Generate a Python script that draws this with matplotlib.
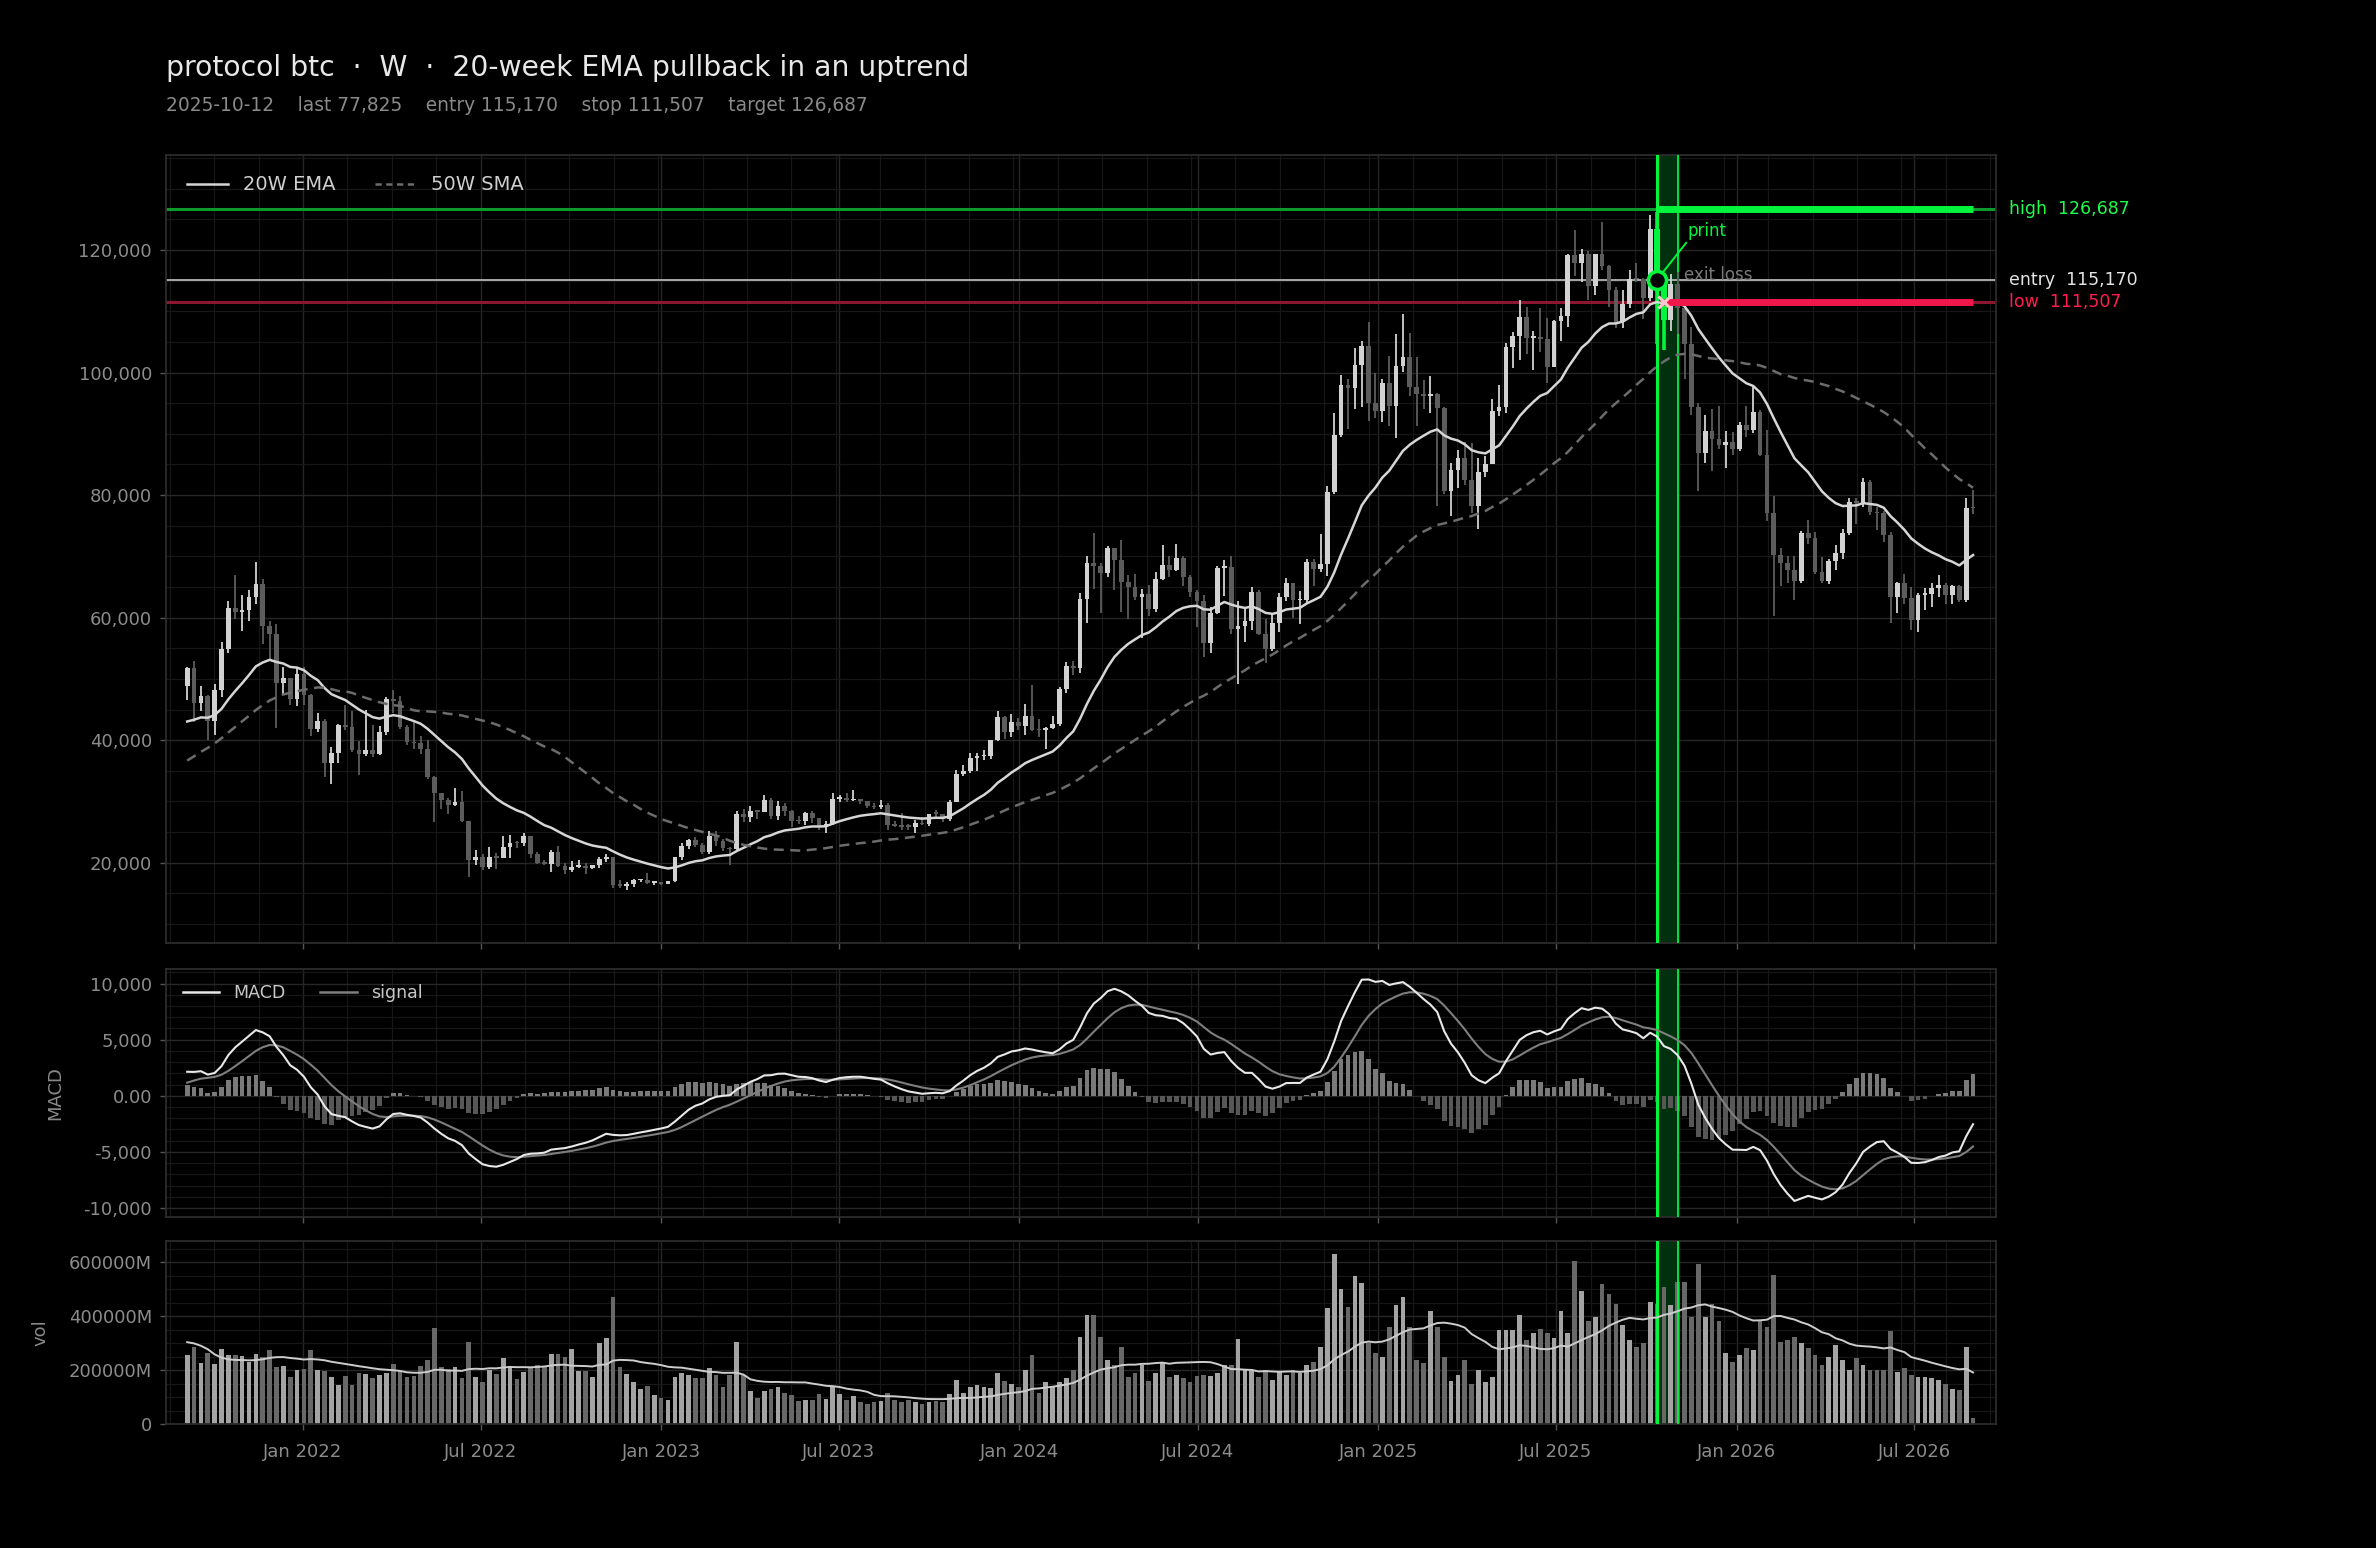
import numpy as np
import pandas as pd
import matplotlib
matplotlib.use("Agg")
import matplotlib.pyplot as plt
import matplotlib.dates as mdates
import matplotlib.transforms as mtransforms
from matplotlib.lines import Line2D
from matplotlib.ticker import AutoMinorLocator, FuncFormatter, MultipleLocator

# weekly bars (week ending Sunday); prices in thousands of USD, volume in billions of USD
FIRST_WEEK = "2021-09-05"
SIGNAL_WEEK = "2025-10-12"
EXIT_WEEK = "2025-10-19"
WINDOW_END = "2025-11-02"
ENTRY = 115170
STOP = 111507
TARGET = 126687
LAST = 77825

# history before the visible window (Sep 2020 - Aug 2021), only feeds the indicators
warmup_closes = [
    10.93, 10.78, 10.67, 11.38, 11.5, 13.03, 13.74, 15.48, 15.96, 18.4, 18.18, 19.15, 19.25, 23.87, 26.28,
    32.78, 38.36, 36.07, 32.29, 33.11, 39.27, 48.72, 57.54, 45.14, 51.2, 59.3, 57.52, 55.95,
    58.76, 60.2, 56.22, 49.0, 56.62, 58.24, 46.46, 34.77, 35.68, 35.8, 39.1, 35.6, 34.7,
    35.29, 34.24, 31.78, 35.4, 39.97, 43.8, 47.05, 49.32, 48.83,
]
warmup_volumes = [
    150, 160, 150, 140, 170, 190, 230, 260, 250, 300, 280, 230, 210, 280, 330,
    480, 560, 500, 360, 420, 390, 450, 480, 430, 340, 330, 310, 300,
    300, 320, 420, 380, 400, 520, 600, 520, 380, 300, 260, 250, 240,
    190, 170, 160, 210, 240, 250, 270, 240, 230,
]

opens = [
    # 2021
    48.83, 51.75, 46.06, 47.26, 43.2, 48.2, 54.8, 61.55, 60.9, 61.3, 63.3, 65.47, 58.7, 57.25, 49.4, 50.1, 46.7,
    # 2022
    50.8, 47.3, 41.9, 43.1, 36.3, 37.9, 42.4, 42.2, 38.4, 37.7, 38.4, 37.8, 41.3, 46.8, 46.4, 42.2, 39.7, 39.5,
    38.5, 34.0, 31.3, 30.3, 29.4, 29.9, 26.8, 20.5, 21.0, 19.3, 20.9, 20.8, 22.6, 23.3, 23.2, 24.3, 21.5, 20.0,
    19.8, 21.8, 19.4, 18.8, 19.3, 19.45, 19.07, 19.57, 20.63, 20.92, 16.3, 16.28, 16.46, 17.1, 17.1, 16.75,
    # 2023
    16.84, 16.6, 16.95, 20.9, 22.7, 23.75, 22.93, 21.8, 24.3, 23.55, 22.43, 22.16, 28.0, 27.5, 28.45, 28.34,
    30.3, 27.59, 29.23, 28.43, 26.78, 26.75, 28.07, 27.22, 25.85, 26.34, 30.48, 30.59, 30.17, 30.25, 30.08,
    29.28, 29.05, 29.4, 26.19, 26.01, 25.87, 25.84, 26.53, 26.26, 27.98, 27.94, 27.16, 29.99, 34.53, 35.01,
    37.06, 37.37, 37.48, 39.98, 43.78, 41.36, 43.0,
    # 2024
    42.27, 43.94, 41.73, 41.58, 42.03, 42.58, 48.3, 52.14, 51.73, 63.11, 68.96, 68.39, 67.21, 71.3, 69.36,
    65.74, 64.94, 63.42, 63.9, 61.48, 66.27, 68.52, 67.76, 69.65, 66.64, 64.26, 62.67, 55.85, 60.8, 68.17,
    68.25, 58.12, 58.71, 59.49, 64.18, 57.3, 54.84, 59.13, 63.34, 65.6, 62.82, 62.85, 69.03, 67.94, 68.74,
    80.47, 89.85, 97.9, 97.45, 101.2, 104.4, 95.1,
    # 2025
    93.7, 98.31, 94.5, 101.1, 102.6, 97.7, 96.5, 96.12, 96.55, 94.27, 80.6, 84.04, 86.05, 82.4, 78.2, 83.7,
    85.1, 93.75, 94.3, 104.2, 106.03, 109.0, 105.7, 105.7, 105.5, 100.96, 108.4, 109.2, 119.1, 117.9, 119.4,
    114.2, 119.3, 117.4, 113.5, 108.2, 111.2, 115.3, 115.2, 112.2, 123.5, 115.17, 108.65, 114.5, 110.6, 104.7,
    94.3, 86.8, 90.4, 89.2, 88.2, 88.6,
    # 2026
    87.6, 91.5, 90.6, 93.6, 86.6, 77.0, 70.2, 68.9, 67.8, 65.9, 73.8, 73.0, 67.5, 65.9, 69.2, 70.5, 73.8,
    78.9, 78.7, 82.2, 77.3, 77.0, 73.5, 63.4, 65.6, 63.2, 59.6, 63.7, 63.9, 64.8, 65.3, 63.7, 65.1, 62.9, 77.9,
]
highs = [
    52.0, 52.9, 48.8, 47.3, 49.2, 56.0, 62.7, 67.0, 63.7, 64.5, 69.0, 66.3, 59.4, 59.0, 51.9, 50.2, 51.8,
    52.0, 47.5, 44.4, 43.5, 38.9, 42.6, 45.8, 44.7, 39.8, 45.0, 42.4, 42.3, 47.0, 48.2, 47.2, 42.4, 42.9, 40.7,
    40.0, 34.2, 31.3, 30.6, 32.2, 31.7, 26.8, 22.0, 21.5, 22.5, 21.6, 24.3, 24.6, 23.6, 24.9, 24.4, 21.8, 20.5,
    22.0, 22.7, 19.9, 20.3, 20.4, 19.9, 19.7, 21.0, 21.4, 21.0, 17.1, 16.8, 17.4, 17.4, 18.4, 17.0,
    16.9, 17.0, 21.0, 23.3, 23.9, 24.2, 23.2, 25.2, 25.1, 23.9, 22.6, 28.4, 28.8, 29.2, 28.5, 31.0,
    30.5, 30.0, 29.8, 28.6, 27.6, 28.2, 28.4, 27.3, 26.8, 31.4, 31.0, 31.4, 31.8, 30.4, 30.1,
    29.8, 30.2, 29.7, 26.8, 28.1, 26.4, 27.0, 27.4, 28.0, 28.6, 28.0, 30.2, 35.2, 35.9,
    37.9, 37.9, 38.4, 40.1, 44.7, 43.9, 44.3, 43.6,
    45.9, 49.0, 43.5, 42.2, 43.9, 48.6, 52.8, 52.9, 64.0, 70.1, 73.8, 68.9, 71.7, 71.3, 72.7,
    66.9, 67.2, 64.7, 65.4, 67.4, 71.9, 70.0, 72.0, 70.1, 66.9, 64.5, 63.7, 61.8, 68.4, 69.4,
    70.0, 62.7, 61.7, 65.0, 64.5, 59.8, 60.6, 64.1, 66.4, 65.6, 64.4, 69.5, 69.5, 73.6,
    81.5, 93.4, 99.6, 98.9, 104.0, 105.2, 108.3, 99.9,
    98.9, 102.7, 106.3, 109.6, 106.4, 102.5, 98.8, 99.5, 96.6, 94.4, 85.3, 87.4, 88.7, 88.5, 86.0, 86.4,
    95.7, 97.9, 104.9, 106.6, 111.9, 110.7, 106.8, 110.5, 108.9, 108.5, 110.5, 119.4, 123.2, 120.2,
    119.8, 119.4, 124.5, 117.5, 113.9, 113.4, 116.8, 117.9, 115.4, 125.7, 126.2, 115.9, 116.0, 116.4, 111.2,
    107.5, 95.0, 93.0, 94.1, 94.6, 90.4, 90.3,
    92.0, 94.5, 97.7, 93.9, 90.6, 79.8, 71.3, 70.0, 70.0, 74.1, 76.0, 74.0, 69.9, 69.5, 71.9, 74.5, 79.5,
    79.6, 82.8, 82.5, 78.1, 77.4, 74.0, 65.8, 67.2, 65.0, 64.0, 64.8, 65.6, 67.0, 65.6, 65.3, 65.3, 79.5, 80.8,
]
lows = [
    46.6, 43.0, 44.75, 40.1, 40.8, 47.1, 54.2, 59.7, 57.8, 59.5, 62.3, 55.7, 53.3, 42.0, 47.3, 45.7, 45.6,
    45.8, 40.7, 41.3, 34.0, 32.9, 36.3, 41.7, 38.0, 34.3, 37.4, 37.2, 37.6, 40.9, 44.4, 41.9, 39.2, 38.6, 37.7,
    33.7, 26.7, 28.7, 28.0, 29.3, 26.6, 17.6, 19.7, 18.8, 19.0, 18.9, 20.7, 20.8, 22.4, 22.7, 20.8, 19.8, 19.6,
    18.5, 19.3, 18.2, 18.5, 19.1, 18.2, 18.9, 19.2, 20.1, 15.8, 15.9, 15.6, 16.0, 16.9, 16.6, 16.4,
    16.4, 16.6, 16.9, 20.4, 22.3, 22.6, 21.4, 21.5, 22.8, 21.9, 19.6, 21.9, 26.6, 26.6, 27.2, 28.2,
    27.2, 26.9, 27.7, 25.9, 26.4, 26.1, 26.5, 25.4, 24.8, 26.2, 29.9, 29.9, 30.0, 29.6, 29.0,
    28.8, 28.8, 25.3, 25.8, 25.4, 25.4, 24.9, 26.1, 26.0, 27.2, 26.6, 26.8, 29.9, 34.1,
    34.6, 35.0, 36.7, 37.0, 39.9, 40.2, 40.6, 41.7,
    40.8, 41.5, 40.6, 38.5, 41.8, 42.3, 47.7, 50.6, 50.9, 59.1, 64.6, 60.8, 66.6, 64.5, 60.9,
    59.7, 62.8, 56.6, 60.3, 60.9, 66.2, 66.7, 67.6, 65.1, 63.4, 58.5, 53.5, 54.3, 60.6, 63.5,
    57.3, 49.1, 56.1, 57.9, 57.2, 52.6, 54.6, 57.6, 62.7, 59.9, 58.9, 62.4, 65.1, 67.5,
    66.8, 80.2, 89.4, 90.8, 94.0, 94.3, 92.1, 92.6,
    91.9, 91.2, 89.3, 100.1, 96.1, 91.2, 94.1, 93.4, 78.2, 80.1, 76.6, 81.2, 81.6, 77.1, 74.4, 83.0,
    85.1, 92.9, 93.4, 100.7, 102.0, 103.1, 100.4, 103.4, 98.3, 100.9, 105.2, 107.5, 115.8, 114.8,
    111.9, 112.7, 116.8, 110.7, 107.3, 107.3, 110.6, 114.7, 108.7, 111.6, 104.6, 103.6, 106.7, 106.3, 98.9,
    93.0, 80.6, 85.3, 83.9, 87.6, 84.4, 86.6,
    87.2, 89.5, 90.1, 86.3, 75.7, 60.2, 65.1, 65.7, 62.9, 65.6, 72.0, 67.2, 65.6, 65.5, 67.8, 69.6, 73.5,
    75.2, 78.0, 76.8, 74.3, 72.4, 59.1, 60.7, 62.3, 58.0, 57.7, 61.2, 61.8, 63.4, 62.3, 62.3, 62.6, 62.6, 76.9,
]
closes = [
    51.75, 46.06, 47.26, 43.2, 48.2, 54.8, 61.55, 60.9, 61.3, 63.3, 65.47, 58.7, 57.25, 49.4, 50.1, 46.7, 50.8,
    47.3, 41.9, 43.1, 36.3, 37.9, 42.4, 42.2, 38.4, 37.7, 38.4, 37.8, 41.3, 46.8, 46.4, 42.2, 39.7, 39.5, 38.5,
    34.0, 31.3, 30.3, 29.4, 29.9, 26.8, 20.5, 21.0, 19.3, 20.9, 20.8, 22.6, 23.3, 23.2, 24.3, 21.5, 20.0, 19.8,
    21.8, 19.4, 18.8, 19.3, 19.45, 19.07, 19.57, 20.63, 20.92, 16.3, 16.28, 16.46, 17.1, 17.1, 16.75, 16.84,
    16.6, 16.95, 20.9, 22.7, 23.75, 22.93, 21.8, 24.3, 23.55, 22.43, 22.16, 28.0, 27.5, 28.45, 28.34, 30.3,
    27.59, 29.23, 28.43, 26.78, 26.75, 28.07, 27.22, 25.85, 26.34, 30.48, 30.59, 30.17, 30.25, 30.08, 29.28,
    29.05, 29.4, 26.19, 26.01, 25.87, 25.84, 26.53, 26.26, 27.98, 27.94, 27.16, 29.99, 34.53, 35.01,
    37.06, 37.37, 37.48, 39.98, 43.78, 41.36, 43.0, 42.27,
    43.94, 41.73, 41.58, 42.03, 42.58, 48.3, 52.14, 51.73, 63.11, 68.96, 68.39, 67.21, 71.3, 69.36, 65.74,
    64.94, 63.42, 63.9, 61.48, 66.27, 68.52, 67.76, 69.65, 66.64, 64.26, 62.67, 55.85, 60.8, 68.17, 68.25,
    58.12, 58.71, 59.49, 64.18, 57.3, 54.84, 59.13, 63.34, 65.6, 62.82, 62.85, 69.03, 67.94, 68.74,
    80.47, 89.85, 97.9, 97.45, 101.2, 104.4, 95.1, 93.7,
    98.31, 94.5, 101.1, 102.6, 97.7, 96.5, 96.12, 96.55, 94.27, 80.6, 84.04, 86.05, 82.4, 78.2, 83.7, 85.1,
    93.75, 94.3, 104.2, 106.03, 109.0, 105.7, 105.7, 105.5, 100.96, 108.4, 109.2, 119.1, 117.9, 119.4,
    114.2, 119.3, 117.4, 113.5, 108.2, 111.2, 115.3, 115.2, 112.2, 123.5, 115.17, 108.65, 114.5, 110.6, 104.7,
    94.3, 86.8, 90.4, 89.2, 88.2, 88.6, 87.6,
    91.5, 90.6, 93.6, 86.6, 77.0, 70.2, 68.9, 67.8, 65.9, 73.8, 73.0, 67.5, 65.9, 69.2, 70.5, 73.8, 78.9,
    78.7, 82.2, 77.3, 77.0, 73.5, 63.4, 65.6, 63.2, 59.6, 63.7, 63.9, 64.8, 65.3, 63.7, 65.1, 62.9, 77.9, 77.825,
]
volumes = [
    255, 285, 225, 262, 222, 278, 255, 255, 252, 228, 258, 250, 275, 212, 215, 175, 200,
    205, 274, 200, 195, 175, 145, 178, 145, 190, 185, 172, 183, 190, 222, 195, 175, 178, 215,
    238, 355, 210, 205, 210, 170, 305, 175, 157, 200, 185, 245, 215, 165, 192, 210, 220, 210,
    258, 258, 250, 278, 195, 195, 175, 300, 320, 470, 210, 185, 155, 130, 140, 107,
    97, 88, 175, 188, 180, 172, 172, 207, 180, 138, 180, 305, 180, 122, 97, 122,
    130, 138, 115, 108, 85, 88, 88, 113, 92, 140, 110, 90, 105, 82, 75,
    82, 86, 115, 88, 83, 90, 82, 75, 80, 85, 80, 110, 163, 116,
    136, 144, 138, 132, 188, 160, 150, 138,
    200, 255, 114, 157, 138, 157, 169, 200, 323, 404, 404, 323, 237, 219, 286,
    175, 188, 219, 160, 188, 231, 175, 181, 169, 157, 178, 181, 178, 188, 219,
    219, 314, 200, 198, 175, 200, 163, 194, 181, 200, 188, 219, 231, 286,
    428, 628, 499, 435, 548, 521, 300, 263,
    250, 360, 440, 469, 360, 237, 225, 420, 360, 250, 158, 181, 237, 150, 200, 157,
    175, 350, 350, 350, 404, 311, 336, 353, 336, 317, 420, 336, 605, 494,
    383, 395, 519, 482, 444, 367, 311, 286, 299, 452, 444, 506, 440, 526, 526,
    395, 593, 395, 444, 383, 262, 230,
    255, 280, 274, 383, 358, 552, 305, 311, 323, 299, 280, 255, 220, 250, 293, 237, 200,
    243, 218, 200, 200, 200, 343, 194, 206, 181, 175, 175, 169, 163, 150, 130, 125, 286, 21,
]

BG = "#000000"
GREEN = "#00f53c"
GREEN_DIM = "#0c9a2c"
RED = "#f0184b"
RED_DIM = "#8c1530"
UP = "#d2d2d2"
DOWN = "#5c5c5c"

# ---- indicators from the weekly series ----
dates = pd.date_range(FIRST_WEEK, periods=len(closes), freq="7D")
warm_dates = pd.date_range(end=dates[0] - pd.Timedelta(days=7), periods=len(warmup_closes), freq="7D")
full_idx = warm_dates.append(dates)
close_s = pd.Series(np.r_[warmup_closes, closes] * 1000.0, index=full_idx)
vol_s = pd.Series(np.r_[warmup_volumes, volumes] * 1000.0, index=full_idx)  # millions

ema20 = close_s.ewm(span=20, adjust=False).mean()[dates].values
sma50 = close_s.rolling(50).mean()[dates].values
macd_full = close_s.ewm(span=12, adjust=False).mean() - close_s.ewm(span=26, adjust=False).mean()
signal_full = macd_full.ewm(span=9, adjust=False).mean()
macd = macd_full[dates].values
signal = signal_full[dates].values
hist = macd - signal
vol_ma = vol_s.rolling(20).mean()[dates].values

x = mdates.date2num(dates)
o, h, l, c = (np.array(v) * 1000.0 for v in (opens, highs, lows, closes))
vol = np.array(volumes) * 1000.0
up = c >= o

sig_x = mdates.date2num(pd.Timestamp(SIGNAL_WEEK))
exit_x = mdates.date2num(pd.Timestamp(EXIT_WEEK))
win_x = mdates.date2num(pd.Timestamp(WINDOW_END))
marked = np.isin(x, [sig_x, exit_x])

# ---- layout (pixel boxes) ----
W, H = 2376, 1548
fig = plt.figure(figsize=(W / 100, H / 100), dpi=100, facecolor=BG)


def box(left, top, right, bottom):
    return [left / W, 1 - bottom / H, (right - left) / W, (bottom - top) / H]


ax = fig.add_axes(box(166, 155, 1996, 943))
ax_macd = fig.add_axes(box(166, 969, 1996, 1217), sharex=ax)
ax_vol = fig.add_axes(box(166, 1241, 1996, 1424), sharex=ax)

for a in (ax, ax_macd, ax_vol):
    a.set_facecolor(BG)
    for s in a.spines.values():
        s.set_color("#2c2c2c")
        s.set_linewidth(1.3)
    a.tick_params(which="major", labelsize=13, labelcolor="#8c8c8c", color="#555555",
                  length=4, width=1, pad=6)
    a.tick_params(which="minor", length=0)
    a.grid(True, which="major", color="#262626", lw=1.0)
    a.grid(True, which="minor", color="#171717", lw=0.9)
    a.set_axisbelow(True)
    # entry window band
    a.axvspan(sig_x, win_x, color="#00300e", lw=0, zorder=0.8)
    a.axvline(sig_x, color=GREEN, lw=2.2, zorder=2.6)
    a.axvline(win_x, color=GREEN, lw=1.3, zorder=2.6)

ax.xaxis.set_major_locator(mdates.MonthLocator(bymonth=[1, 7]))
ax.xaxis.set_major_formatter(mdates.DateFormatter("%b %Y"))
ax.xaxis.set_minor_locator(AutoMinorLocator(4))
ax.set_xlim(x[0] - 21.6, x[-1] + 23.4)
ax.tick_params(labelbottom=False)
ax_macd.tick_params(labelbottom=False)
ax_vol.tick_params(axis="x", pad=9.5)

# ---- price panel ----
ax.set_ylim(6900, 135500)
ax.yaxis.set_major_locator(MultipleLocator(20000))
ax.yaxis.set_minor_locator(AutoMinorLocator(4))
ax.yaxis.set_major_formatter(FuncFormatter(lambda v, p: f"{v:,.0f}"))

ax.axhline(TARGET, color=GREEN_DIM, lw=2.2, zorder=1.5)
ax.axhline(STOP, color=RED_DIM, lw=2.2, zorder=1.5)
ax.axhline(ENTRY, color="#a8a8a8", lw=1.4, zorder=1.5)

body_lo = np.minimum(o, c)
body_hi = np.maximum(np.abs(c - o), 260)
for mask, col in ((up & ~marked, UP), (~up & ~marked, DOWN)):
    ax.vlines(x[mask], l[mask], h[mask], color=col, lw=1.3, zorder=3)
    ax.bar(x[mask], body_hi[mask], bottom=body_lo[mask], width=4.8, color=col, lw=0, zorder=3)
ax.vlines(x[marked], l[marked], h[marked], color=GREEN, lw=2.6, zorder=3.2)
ax.bar(x[marked], body_hi[marked], bottom=body_lo[marked], width=5.6, color=GREEN, lw=0, zorder=3.2)

ax.plot(x, ema20, color="#d6d6d6", lw=1.8, zorder=4)
ax.plot(x, sma50, color="#6c6c6c", lw=1.8, ls=(0, (4, 2.6)), zorder=4)

ax.plot([sig_x, x[-1]], [TARGET, TARGET], color=GREEN, lw=5, solid_capstyle="butt", zorder=5)
ax.plot([exit_x, x[-1]], [STOP, STOP], color=RED, lw=5, solid_capstyle="butt", zorder=5)

ax.plot(sig_x, ENTRY, "o", ms=13, mfc="black", mec=GREEN, mew=2.6, zorder=7)
ax.plot(exit_x, STOP, "x", ms=9, mec="#ffc4ce", mew=2.2, zorder=7)
ax.annotate("print", xy=(sig_x, ENTRY), xytext=(sig_x + 31.5, 122300), color=GREEN, fontsize=12,
            ha="left", va="baseline", zorder=8,
            arrowprops=dict(arrowstyle="-", color=GREEN, lw=1.4, shrinkA=0, shrinkB=6, relpos=(0.05, 0.1)))
ax.text(sig_x + 27.5, 115900, "exit loss", color="#7a7a7a", fontsize=12, ha="left", va="center", zorder=8)

trans = mtransforms.blended_transform_factory(ax.transAxes, ax.transData)
ax.text(1.0071, TARGET, f"high  {TARGET:,}", transform=trans, color="#1cff4a", fontsize=12.5,
        va="center", ha="left")
ax.text(1.0071, ENTRY, f"entry  {ENTRY:,}", transform=trans, color="#e4e4e4", fontsize=12.5,
        va="center", ha="left")
ax.text(1.0071, STOP, f"low  {STOP:,}", transform=trans, color="#ff1d4e", fontsize=12.5,
        va="center", ha="left")

leg = ax.legend(handles=[Line2D([], [], color="#d6d6d6", lw=1.8),
                         Line2D([], [], color="#6c6c6c", lw=1.8, ls=(0, (2.5, 1.8)))],
                labels=["20W EMA", "50W SMA"], loc="upper left", bbox_to_anchor=(0.0115, 0.974),
                ncol=2, frameon=False, fontsize=14, handlelength=2.1, handletextpad=0.8,
                columnspacing=2.0, borderpad=0, borderaxespad=0)
for t in leg.get_texts():
    t.set_color("#cfcfcf")

# ---- MACD panel ----
ax_macd.set_ylim(-10800, 11300)
ax_macd.yaxis.set_major_locator(MultipleLocator(5000))
ax_macd.yaxis.set_minor_locator(AutoMinorLocator(5))
ax_macd.yaxis.set_major_formatter(FuncFormatter(lambda v, p: "0.00" if abs(v) < 1e-6 else f"{v:,.0f}"))
ax_macd.bar(x, hist, width=4.8, color=np.where(hist >= 0, "#7a7a7a", "#575757"), lw=0, zorder=2)
ax_macd.plot(x, signal, color="#7e7e7e", lw=1.5, zorder=3)
ax_macd.plot(x, macd, color="#e8e8e8", lw=1.5, zorder=4)
ax_macd.set_ylabel("MACD", color="#8a8a8a", fontsize=13)
ax_macd.yaxis.set_label_coords(-0.0554, 0.5)
leg2 = ax_macd.legend(handles=[Line2D([], [], color="#e8e8e8", lw=1.8),
                               Line2D([], [], color="#7e7e7e", lw=1.8)],
                      labels=["MACD", "signal"], loc="upper left", bbox_to_anchor=(0.0093, 0.94),
                      ncol=2, frameon=False, fontsize=12.5, handlelength=2.1, handletextpad=0.8,
                      columnspacing=2.0, borderpad=0, borderaxespad=0)
for t in leg2.get_texts():
    t.set_color("#c8c8c8")

# ---- volume panel ----
ax_vol.set_ylim(0, 678000)
ax_vol.yaxis.set_major_locator(MultipleLocator(200000))
ax_vol.yaxis.set_minor_locator(AutoMinorLocator(4))
ax_vol.yaxis.set_major_formatter(FuncFormatter(lambda v, p: "0" if v == 0 else f"{v:.0f}M"))
ax_vol.bar(x, vol, width=4.8, color=np.where(up, "#a4a4a4", "#686868"), lw=0, zorder=2)
ax_vol.plot(x, vol_ma, color="#cdcdcd", lw=1.4, zorder=3)
ax_vol.set_ylabel("vol", color="#8a8a8a", fontsize=13)
ax_vol.yaxis.set_label_coords(-0.0636, 0.5)

# ---- titles ----
fig.text(166 / W, 1 - 76 / H, "protocol btc  \u00b7  W  \u00b7  20-week EMA pullback in an uptrend",
         color="#e8e8e8", fontsize=20.3, va="baseline", ha="left")
fig.text(166 / W, 1 - 111 / H,
         f"{SIGNAL_WEEK}    last {LAST:,}    entry {ENTRY:,}    stop {STOP:,}    target {TARGET:,}",
         color="#8a8a8a", fontsize=13.4, va="baseline", ha="left")

fig.savefig("out.png", dpi=100, facecolor=BG)
